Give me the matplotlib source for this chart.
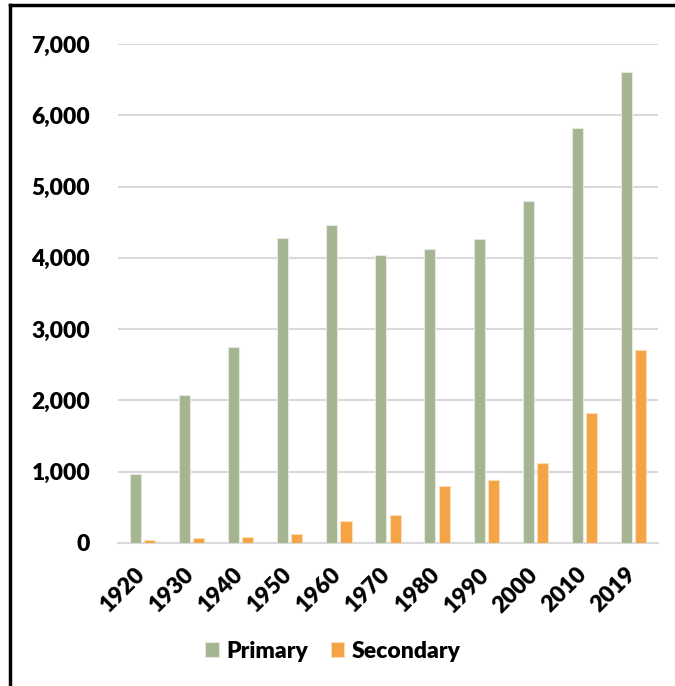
import matplotlib.pyplot as plt
import matplotlib.ticker as mticker
import matplotlib.transforms as mtrans
import numpy as np
from matplotlib.lines import Line2D

plt.rcParams['font.family'] = ['Lato', 'DejaVu Sans']

years = ["1920", "1930", "1940", "1950", "1960", "1970", "1980", "1990", "2000", "2010", "2019"]
primary = [970, 2080, 2750, 4280, 4460, 4040, 4120, 4265, 4800, 5820, 6610]
secondary = [40, 70, 90, 130, 310, 395, 800, 885, 1120, 1825, 2710]

GREEN = "#A5B592"
ORANGE = "#F4A444"

fig = plt.figure(figsize=(6.75, 6.86), dpi=100)
ax = fig.add_axes([0.1748, 0.2085, 0.8, 0.7274])

x = np.arange(len(years))
w = 0.225
off = 0.145
ax.bar(x - off, primary, w, color=GREEN, edgecolor="#E4E8DE", linewidth=0.8, label="Primary", zorder=3)
ax.bar(x + off, secondary, w, color=ORANGE, edgecolor="#FBDDB8", linewidth=0.8, label="Secondary", zorder=3)

ax.set_xlim(-0.5, len(years) - 0.5)
ax.set_ylim(0, 7000)
ax.yaxis.set_major_locator(mticker.MultipleLocator(1000))
ax.yaxis.set_major_formatter(mticker.FuncFormatter(lambda v, p: f"{int(v):,}"))
ax.grid(axis="y", color="#D9D9D9", linewidth=1.5, zorder=0)

for s in ["top", "right", "left"]:
    ax.spines[s].set_visible(False)
ax.spines["bottom"].set_color("#D9D9D9")
ax.spines["bottom"].set_linewidth(1.5)

ax.set_xticks(x)
ax.set_xticklabels(years, rotation=45, ha="right", rotation_mode="anchor")
ax.tick_params(axis="both", length=0, labelsize=16.5)
ax.tick_params(axis="x", pad=15)
ax.tick_params(axis="y", pad=20)
shift = mtrans.ScaledTranslation(-8 / 100, 0, fig.dpi_scale_trans)
for lab in ax.get_xticklabels():
    lab.set_transform(lab.get_transform() + shift)
for lab in ax.get_xticklabels() + ax.get_yticklabels():
    lab.set_fontweight("heavy")

fig.legend(loc="center", bbox_to_anchor=(0.493, 0.051), ncol=2, frameon=False,
           prop={"size": 16.5, "weight": "heavy"}, handlelength=0.6, handleheight=0.6,
           handletextpad=0.3, columnspacing=1.0)

# outer border (left and top only)
fig.add_artist(Line2D([0.0148, 0.0148], [0.0, 0.9927], color="black", linewidth=2.5, transform=fig.transFigure))
fig.add_artist(Line2D([0.0148, 1.0], [0.9927, 0.9927], color="black", linewidth=2.5, transform=fig.transFigure))

fig.savefig("out.png", dpi=100)
